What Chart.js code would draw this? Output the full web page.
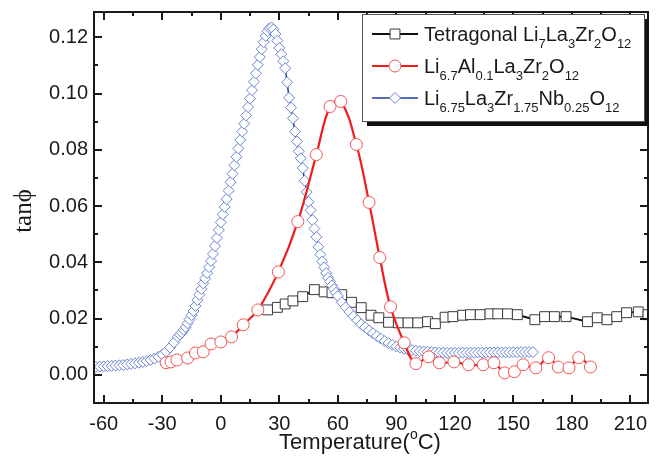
<!DOCTYPE html>
<html>
<head>
<meta charset="utf-8">
<script src="https://cdn.jsdelivr.net/npm/chart.js@4.4.0/dist/chart.umd.min.js"></script>
<style>
  html, body { margin:0; padding:0; background:#fff; }
</style>
</head>
<body>
<canvas id="c" width="656" height="457"></canvas>
<script>
// axis ticks
const X_TICKS = [-60, -30, 0, 30, 60, 90, 120, 150, 180, 210];
const Y_TICKS = [0, 0.02, 0.04, 0.06, 0.08, 0.10, 0.12];

// Tetragonal Li7La3Zr2O12
const tetraT   = [24, 29, 33, 37, 42, 48, 53, 57, 62, 67, 72, 77, 81, 86, 91, 96, 101, 106, 110, 115, 119, 124, 128, 133, 138, 142, 147, 152, 161, 166, 171, 177, 188, 193, 198, 203, 208, 214, 219];
const tetraTan = [0.0231, 0.0240, 0.0252, 0.0263, 0.0278, 0.0303, 0.0295, 0.0292, 0.0285, 0.0258, 0.0239, 0.0212, 0.0203, 0.0187, 0.0185, 0.0185, 0.0185, 0.0189, 0.0182, 0.0205, 0.0207, 0.0212, 0.0214, 0.0214, 0.0217, 0.0217, 0.0217, 0.0214, 0.0196, 0.0207, 0.0207, 0.0207, 0.0189, 0.0203, 0.0196, 0.0207, 0.0221, 0.0224, 0.0214];

// Li6.7Al0.1La3Zr2O12
const alT   = [-28, -25.5, -22.5, -17, -13, -9, -5, 0, 5.5, 11.5, 19, 29.5, 39.5, 49, 56, 61.5, 69.5, 76, 81.5, 87, 94, 100, 106.5, 112, 119.5, 127, 134.5, 140, 145.5, 150.5, 155, 161.5, 168, 173, 178.5, 183.5, 189.5];
const alTan = [0.0043, 0.0046, 0.0053, 0.0060, 0.0078, 0.0082, 0.0110, 0.0117, 0.0135, 0.0178, 0.0231, 0.0366, 0.0545, 0.0783, 0.0954, 0.0972, 0.0819, 0.0613, 0.0417, 0.0242, 0.0114, 0.0040, 0.0064, 0.0043, 0.0046, 0.0036, 0.0036, 0.0043, 0.0007, 0.0011, 0.0036, 0.0025, 0.0061, 0.0028, 0.0025, 0.0061, 0.0028];

// Li6.75La3Zr1.75Nb0.25O12
const nbT = [-64, -62, -60, -58, -56, -54, -52, -50, -48, -46, -44, -42, -40, -38, -36, -34, -32, -30, -28, -26, -24, -22,
  -21, -20, -19, -18, -17, -16, -15, -14, -13, -12, -11, -10, -9, -8, -7, -6, -5, -4, -3, -2, -1,
  0, 1, 2, 3, 4, 5, 6, 7, 8, 9, 10, 11, 12, 13, 14, 15, 16, 17, 18, 19, 20,
  21, 22, 23, 24, 25, 26, 27, 28, 29, 30, 31, 32, 33, 34, 35, 36, 37, 38, 39, 40,
  41, 42, 43, 44, 45, 46, 47, 48, 49, 50, 51, 52, 53, 54, 55, 56, 57, 58, 59, 60,
  62, 64, 66, 68, 70, 72, 74, 76, 78, 80, 82, 84, 86, 88, 90, 92, 94, 96, 98, 100,
  102, 104, 106, 108, 110, 112, 114, 116, 118, 120, 122, 124, 126, 128, 130, 132, 134, 136, 138, 140,
  142, 144, 146, 148, 150, 152, 154, 156, 158, 160];
const nbTan = [0.0028, 0.0029, 0.0030, 0.0031, 0.0032, 0.0033, 0.0034, 0.0035, 0.0037, 0.0039, 0.0041, 0.0043, 0.0046, 0.0049, 0.0053, 0.0058, 0.0064, 0.0072, 0.0083, 0.0097, 0.0115, 0.0135,
  0.0143, 0.0150, 0.0160, 0.0170, 0.0183, 0.0197, 0.0212, 0.0227, 0.0245, 0.0266, 0.0285, 0.0305, 0.0325, 0.0342, 0.0362, 0.0383, 0.0405, 0.0430, 0.0458, 0.0487, 0.0515,
  0.0542, 0.0570, 0.0597, 0.0625, 0.0655, 0.0685, 0.0715, 0.0745, 0.0775, 0.0805, 0.0835, 0.0865, 0.0893, 0.0922, 0.0952, 0.0982, 0.1012, 0.1042, 0.1072, 0.1102, 0.1130,
  0.1158, 0.1183, 0.1205, 0.1222, 0.1232, 0.1235, 0.1228, 0.1212, 0.1188, 0.1162, 0.1140, 0.1115, 0.1090, 0.1040, 0.0985, 0.0950, 0.0912, 0.0865, 0.0830, 0.0795,
  0.0770, 0.0735, 0.0690, 0.0650, 0.0615, 0.0585, 0.0550, 0.0520, 0.0490, 0.0455, 0.0428, 0.0403, 0.0382, 0.0362, 0.0345, 0.0332, 0.0318, 0.0305, 0.0292, 0.0280,
  0.0258, 0.0240, 0.0224, 0.0208, 0.0194, 0.0180, 0.0169, 0.0158, 0.0148, 0.0138, 0.0129, 0.0120, 0.0113, 0.0107, 0.0101, 0.0097, 0.0093, 0.0090, 0.0088, 0.0086,
  0.0084, 0.0083, 0.0082, 0.0081, 0.0080, 0.0079, 0.0079, 0.0078, 0.0078, 0.0078, 0.0078, 0.0079, 0.0079, 0.0079, 0.0079, 0.0079, 0.0079, 0.0079, 0.0080, 0.0080,
  0.0080, 0.0080, 0.0080, 0.0080, 0.0080, 0.0080, 0.0081, 0.0081, 0.0081, 0.0081];

// legend text, [text, isSubscript]
const LEGEND_ROWS = [
  [["Tetragonal Li",0],["7",1],["La",0],["3",1],["Zr",0],["2",1],["O",0],["12",1]],
  [["Li",0],["6.7",1],["Al",0],["0.1",1],["La",0],["3",1],["Zr",0],["2",1],["O",0],["12",1]],
  [["Li",0],["6.75",1],["La",0],["3",1],["Zr",0],["1.75",1],["Nb",0],["0.25",1],["O",0],["12",1]],
];
const X_TITLE = [["Temperature(",0],["o",2],["C)",0]];
const Y_TITLE = "tan\u03D5";

const SANS = "'Liberation Sans', Arial, sans-serif";
const INK = "#1a1a1a";

const toPts = (xs, ys) => xs.map((x, i) => ({ x, y: ys[i] }));

function drawParts(ctx, parts, x, y, size, anchor){
  const font = (s) => `${s}px ${SANS}`;
  const sub = Math.round(size * 0.64);
  let w = 0;
  parts.forEach(([t, k]) => { ctx.font = font(k ? sub : size); w += ctx.measureText(t).width; });
  let cx = anchor === "center" ? x - w / 2 : x;
  ctx.textBaseline = "alphabetic";
  ctx.textAlign = "left";
  parts.forEach(([t, k]) => {
    ctx.font = font(k ? sub : size);
    const dy = k === 1 ? size * 0.33 : k === 2 ? -size * 0.45 : 0;
    ctx.fillText(t, cx, y + dy);
    cx += ctx.measureText(t).width;
  });
}

const framePlugin = {
  id: "frame",
  afterDatasetsDraw(chart){
    const { ctx, chartArea: a, scales: { x, y } } = chart;
    ctx.save();
    ctx.strokeStyle = INK;
    ctx.lineWidth = 2;
    ctx.beginPath();
    const xMarks = X_TICKS.map(v => [v, 8]).concat(X_TICKS.map(v => [v + 15, 4]));
    xMarks.forEach(([v, len]) => {
      if (v < x.min || v > x.max) return;
      const px = Math.round(x.getPixelForValue(v));
      ctx.moveTo(px, a.bottom); ctx.lineTo(px, a.bottom - len);
      ctx.moveTo(px, a.top); ctx.lineTo(px, a.top + len);
    });
    const yMarks = Y_TICKS.map(v => [v, 8]).concat(Y_TICKS.map(v => [v + 0.01, 4]));
    yMarks.forEach(([v, len]) => {
      if (v < y.min || v > y.max) return;
      const py = Math.round(y.getPixelForValue(v));
      ctx.moveTo(a.left, py); ctx.lineTo(a.left + len, py);
      ctx.moveTo(a.right, py); ctx.lineTo(a.right - len, py);
    });
    ctx.stroke();
    ctx.strokeRect(a.left, a.top, a.right - a.left, a.bottom - a.top);
    ctx.restore();
  },
  afterDraw(chart){
    const { ctx } = chart;
    ctx.save();
    ctx.fillStyle = INK;
    // axis titles
    drawParts(ctx, X_TITLE, 360, 449, 22, "center");
    ctx.translate(24, 211);
    ctx.rotate(-Math.PI / 2);
    ctx.font = "25px 'Liberation Serif', 'DejaVu Serif', serif";
    ctx.textAlign = "center";
    ctx.textBaseline = "middle";
    ctx.fillText(Y_TITLE, 0, 0);
    ctx.restore();

    // legend box with shadow
    const bx = 362, by = 14, bw = 282, bh = 107;
    ctx.save();
    ctx.fillStyle = "#111";
    ctx.fillRect(bx + 5, by + 5, bw, bh);
    ctx.fillStyle = "#fff";
    ctx.fillRect(bx, by, bw, bh);
    ctx.strokeStyle = "#555";
    ctx.lineWidth = 1;
    ctx.strokeRect(bx + 0.5, by + 0.5, bw, bh);
    const rowsY = [34, 66, 98];
    const dsOrder = [2, 0, 1];
    rowsY.forEach((ry, i) => {
      const ds = chart.data.datasets[dsOrder[i]];
      ctx.strokeStyle = ds.borderColor;
      ctx.lineWidth = ds.borderWidth;
      ctx.beginPath(); ctx.moveTo(372, ry); ctx.lineTo(418, ry); ctx.stroke();
      ctx.fillStyle = "#fff";
      ctx.strokeStyle = ds.pointBorderColor;
      ctx.lineWidth = ds.pointBorderWidth;
      Chart.helpers.drawPoint(ctx, { pointStyle: ds.pointStyle, radius: ds.pointRadius, borderWidth: ds.pointBorderWidth, rotation: 0 }, 395, ry);
      ctx.fillStyle = INK;
      drawParts(ctx, LEGEND_ROWS[i], 424, ry + 7, 20, "left");
    });
    ctx.restore();
  }
};

const tickFont = { family: SANS, size: 20 };

new Chart(document.getElementById("c"), {
  type: "line",
  data: {
    datasets: [
      { label: "Li6.7Al0.1La3Zr2O12", data: toPts(alT, alTan), borderColor: "#f01c1c", borderWidth: 2.2, tension: 0.4,
        pointStyle: "circle", pointRadius: 6, pointBorderColor: "#f05555", pointBackgroundColor: "#fff", pointBorderWidth: 1, order: 0 },
      { label: "Li6.75La3Zr1.75Nb0.25O12", data: toPts(nbT, nbTan), borderColor: "#203f9c", borderWidth: 1.5, tension: 0,
        pointStyle: "rectRot", pointRadius: 5.5, pointBorderColor: "#6a84d4", pointBackgroundColor: "#fff", pointBorderWidth: 1, order: 1 },
      { label: "Tetragonal Li7La3Zr2O12", data: toPts(tetraT, tetraTan), borderColor: "#111", borderWidth: 2, tension: 0,
        pointStyle: "rect", pointRadius: 7, pointBorderColor: "#3a3a3a", pointBackgroundColor: "#fff", pointBorderWidth: 1, order: 2 },
    ]
  },
  options: {
    responsive: false,
    animation: false,
    devicePixelRatio: 1,
    layout: { padding: { top: 12, right: 3, left: 0, bottom: 0 } },
    plugins: { legend: { display: false }, tooltip: { enabled: false } },
    scales: {
      x: {
        type: "linear", min: -65, max: 219,
        afterFit: s => { s.height = 54; s.paddingLeft = 0; s.paddingRight = 0; },
        afterBuildTicks: s => { s.ticks = X_TICKS.map(v => ({ value: v })); },
        grid: { display: false, drawTicks: false, tickLength: 0 }, border: { display: false },
        ticks: { font: tickFont, color: INK, padding: 9, maxRotation: 0, autoSkip: false }
      },
      y: {
        type: "linear", min: -0.01, max: 0.129,
        afterFit: s => { s.width = 94; s.paddingTop = 0; s.paddingBottom = 0; },
        afterBuildTicks: s => { s.ticks = Y_TICKS.map(v => ({ value: v })); },
        grid: { display: false, drawTicks: false, tickLength: 0 }, border: { display: false },
        ticks: { font: tickFont, color: INK, padding: 6, autoSkip: false, callback: v => v.toFixed(2) }
      }
    }
  },
  plugins: [framePlugin]
});
</script>
</body>
</html>
